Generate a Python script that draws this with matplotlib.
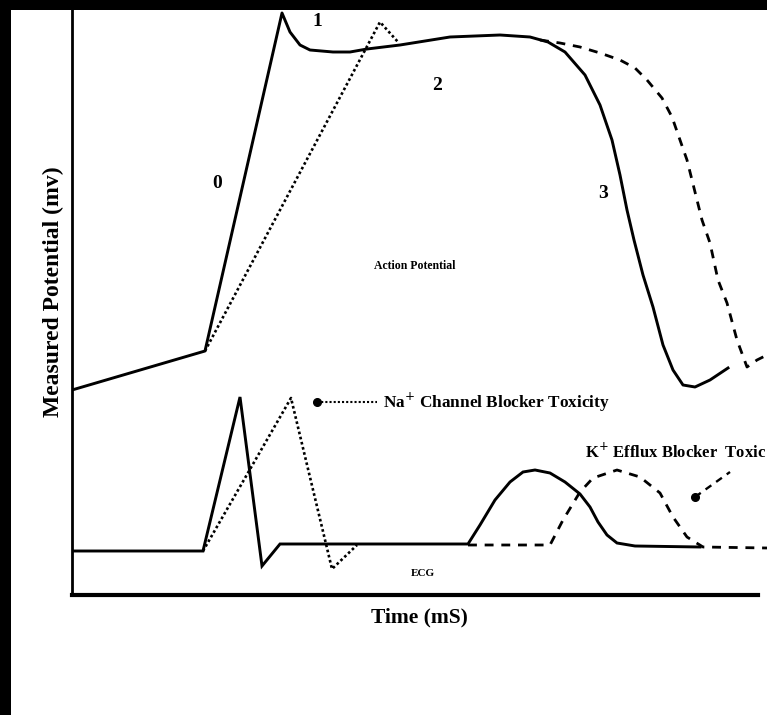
import matplotlib
matplotlib.use("Agg")
import matplotlib.pyplot as plt
from matplotlib.patches import Rectangle

# ---- data (time in arbitrary ms units, potential in arbitrary units) ----
ap_t = [0, 133, 210, 218, 228, 238, 261, 278, 295, 328, 378, 428, 458, 476, 493, 513,
        528, 540, 548, 555, 562, 571, 581, 591, 601, 611, 623, 638, 656]
ap_v = [205, 244, 582, 563, 550, 545, 543, 543, 546, 550, 558, 560, 558, 553, 543, 520,
        490, 455, 420, 385, 355, 320, 288, 250, 225, 210, 208, 215, 227]

na_ap_t = [133, 308, 326]
na_ap_v = [244, 573, 553]

k_ap_t = [468, 488, 508, 528, 548, 563, 575, 590, 600, 608, 615, 620, 630, 638, 646,
          655, 665, 675, 685, 695]
k_ap_v = [555, 552, 548, 542, 535, 527, 515, 497, 478, 455, 435, 415, 375, 352, 315,
          292, 255, 228, 235, 240]

ecg_t = [0, 131, 168, 190, 208, 396, 408, 423, 438, 451, 463, 478, 493, 508, 518, 526,
         535, 545, 563, 628]
ecg_v = [44, 44, 198, 29, 51, 51, 70, 95, 113, 123, 125, 122, 113, 101, 88, 73,
         60, 52, 49, 48]

na_ecg_t = [131, 219, 260, 285]
na_ecg_v = [44, 197, 26, 50]

k_ecg_t = [396, 478, 491, 508, 521, 545, 568, 588, 601, 615, 631, 695]
k_ecg_v = [50, 50, 75, 103, 117, 125, 118, 102, 78, 58, 48, 47]

phase_labels = ["0", "1", "2", "3"]
phase_t = [145, 245, 365, 531]
phase_v = [412, 573, 510, 402]

W, H = 767, 715
fig = plt.figure(figsize=(W / 100, H / 100), dpi=100)
fig.patch.set_facecolor("white")

ax = fig.add_axes([72 / W, (H - 595) / H, (W - 72) / W, (595 - 10) / H])
ax.set_xlim(0, 695)
ax.set_ylim(0, 585)
ax.set_facecolor("none")
for s in ["top", "right"]:
    ax.spines[s].set_visible(False)
ax.spines["left"].set_linewidth(2.0)
ax.spines["bottom"].set_linewidth(3.0)
ax.spines["bottom"].set_bounds(0, 686)
ax.set_xticks([])
ax.set_yticks([])

serif = "Liberation Serif"
lw = 2.1

ax.plot(ap_t, ap_v, color="black", lw=lw, solid_joinstyle="round")
ax.plot(na_ap_t, na_ap_v, color="black", lw=1.9, linestyle=(0, (1, 1)))
ax.plot(k_ap_t, k_ap_v, color="black", lw=2.0, linestyle=(0, (3.2, 2.8)))

ax.plot(ecg_t, ecg_v, color="black", lw=lw, solid_joinstyle="miter")
ax.plot(na_ecg_t, na_ecg_v, color="black", lw=1.9, linestyle=(0, (1, 1)))
ax.plot(k_ecg_t, k_ecg_v, color="black", lw=2.0, linestyle=(0, (3.2, 2.8)))

for lab, t, v in zip(phase_labels, phase_t, phase_v):
    ax.text(t, v, lab, fontsize=14, fontweight="bold", family=serif,
            ha="center", va="center")

ax.text(343, 329, "Action Potential", fontsize=8.5, fontweight="bold", family=serif,
        ha="center", va="center")
ax.text(351, 22, "ECG", fontsize=8, fontweight="bold", family=serif,
        ha="center", va="center")

# Na+ annotation arrow
ax.plot([245, 305], [193, 193], color="black", lw=1.5, linestyle=(0, (1, 1)))
ax.plot([245], [193], marker="o", color="black", ms=5.5)
ax.text(311, 193, "Na$^{+}$ Channel Blocker Toxicity", fontsize=12.4, fontweight="bold",
        family=serif, ha="left", va="center")

# K+ annotation arrow (the reference shows this label running off the right edge)
ax.plot([623, 658], [98, 123], color="black", lw=1.7, linestyle=(0, (3, 2.5)))
ax.plot([623], [98], marker="o", color="black", ms=5.5)
ax.text(513, 143, "K$^{+}$ Efflux Blocker  Toxic", fontsize=12.0, fontweight="bold",
        family=serif, ha="left", va="center")

ax.set_ylabel("Measured Potential (mv)", fontsize=17, fontweight="bold", family=serif)
ax.yaxis.set_label_coords(-0.027, 0.518)
ax.set_xlabel("Time (mS)", fontsize=15.5, fontweight="bold", family=serif)
ax.xaxis.set_label_coords(0.500, -0.038)
ax.xaxis.label.set_va("center")
ax.yaxis.label.set_va("center")

# black frame on top and left
fig.patches.append(Rectangle((0, 1 - 10 / H), 1, 10 / H, transform=fig.transFigure,
                             facecolor="black", edgecolor="none", zorder=10))
fig.patches.append(Rectangle((0, 0), 11 / W, 1, transform=fig.transFigure,
                             facecolor="black", edgecolor="none", zorder=10))

fig.savefig("out.png", dpi=100, facecolor=fig.get_facecolor())
